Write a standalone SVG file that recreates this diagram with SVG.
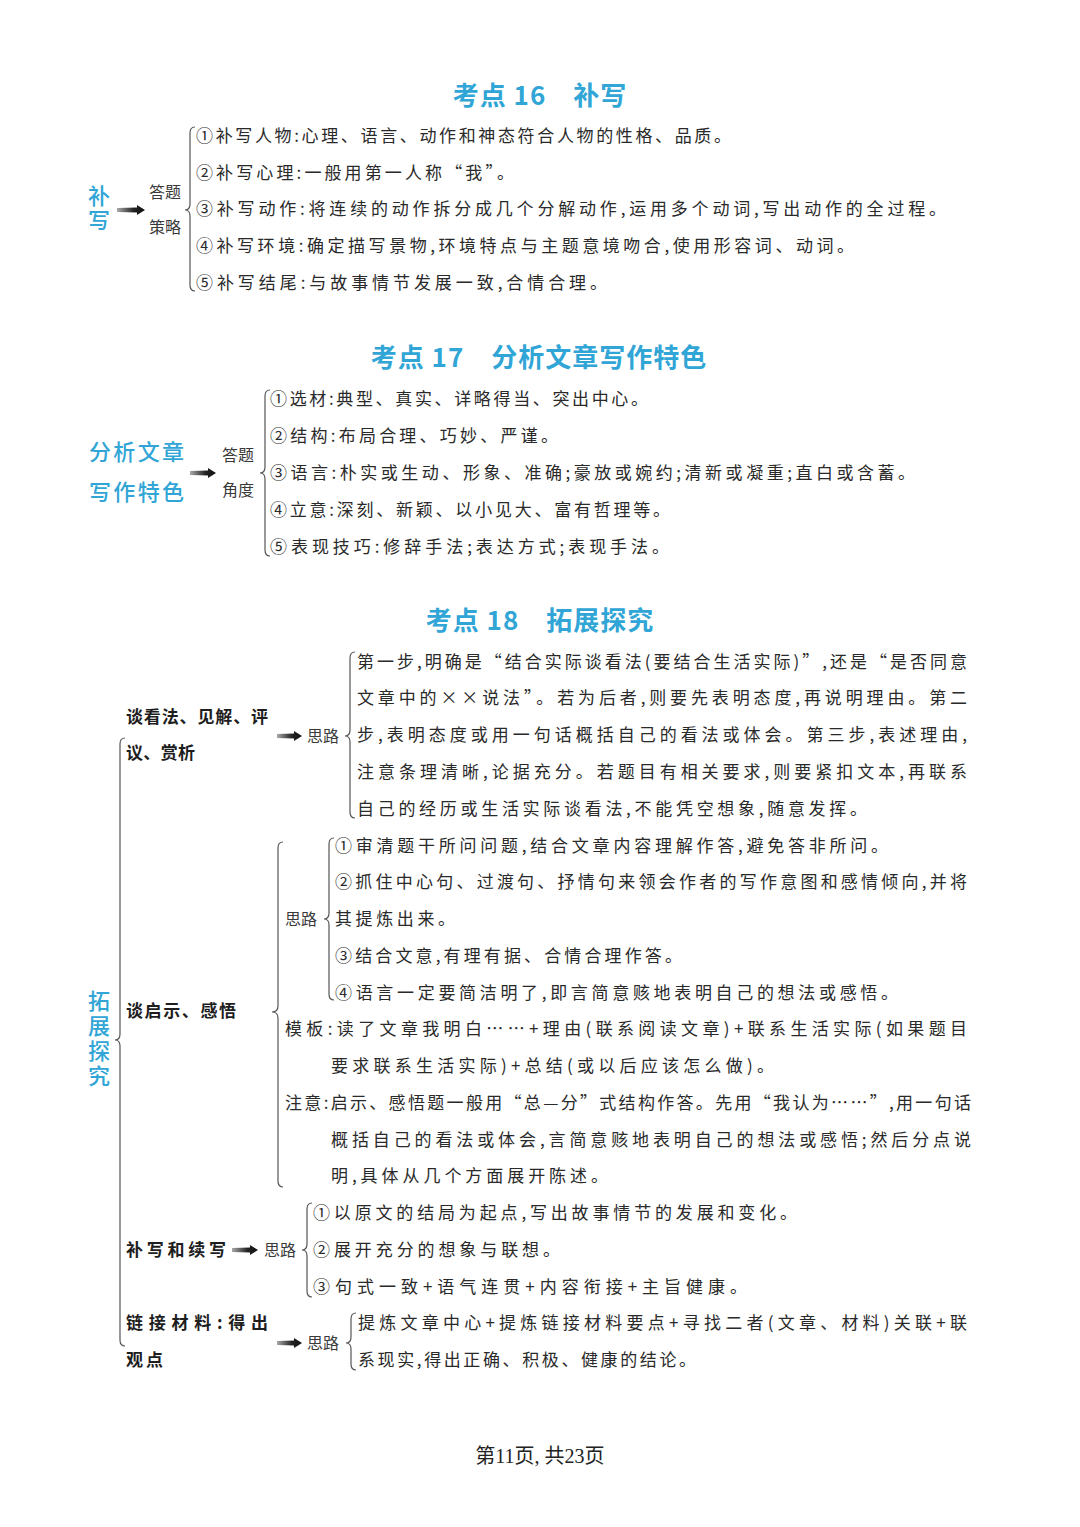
<svg xmlns="http://www.w3.org/2000/svg" width="1080" height="1527" viewBox="0 0 1080 1527">
<style>
.title{font-family:"Noto Sans CJK SC","Noto Sans",sans-serif;font-size:26px;font-weight:700;fill:#30a5d6;letter-spacing:1px}
.root{font-family:"Noto Sans CJK SC","Noto Sans",sans-serif;font-size:22px;font-weight:500;fill:#30a5d6}
.vert{writing-mode:vertical-rl;font-family:"Noto Sans CJK SC","Noto Sans",sans-serif;font-size:22px;font-weight:500;fill:#30a5d6}
.lab{font-family:"Noto Sans CJK SC","Noto Sans",sans-serif;font-size:17px;font-weight:700;fill:#1e1e1e}
.small{font-family:"Noto Sans CJK SC","Noto Sans",sans-serif;font-size:16px;font-weight:400;fill:#3a3a3a}
.body{font-family:"Noto Sans CJK SC","Noto Sans",sans-serif;font-size:17px;font-weight:400;fill:#2a2a2a}
.foot{font-family:"Liberation Serif","Noto Sans CJK SC",serif;font-size:20px;fill:#222}
.brace{fill:none;stroke:#555;stroke-width:1.2}
.arrow{fill:url(#ag)}
</style>
<defs>
<linearGradient id="ag" x1="0" y1="0" x2="1" y2="0">
<stop offset="0" stop-color="#aaa"/>
<stop offset="0.6" stop-color="#222"/>
<stop offset="1" stop-color="#111"/>
</linearGradient>
</defs>
<rect width="1080" height="1527" fill="#fff"/>

<g id="title16"><text class="title" x="540" y="105" text-anchor="middle">考点 16　补写</text></g>
<g id="title17"><text class="title" x="539" y="367" text-anchor="middle">考点 17　分析文章写作特色</text></g>
<g id="title18"><text class="title" x="540" y="630" text-anchor="middle">考点 18　拓展探究</text></g>

<g id="connectors">
<path class="arrow" d="M117,208 L137,207.5 L137,205 L145,210 L137,215 L137,212.5 L117,212 Z"/>
<path class="arrow" d="M190,471 L208,470.5 L208,468 L216,473 L208,478 L208,475.5 L190,475 Z"/>
<path class="arrow" d="M277,734 L294,733.5 L294,731 L302,736 L294,741 L294,738.5 L277,738 Z"/>
<path class="arrow" d="M232,1248 L250,1247.5 L250,1245 L258,1250 L250,1255 L250,1252.5 L232,1252 Z"/>
<path class="arrow" d="M277,1341 L294,1340.5 L294,1338 L302,1343 L294,1348 L294,1345.5 L277,1345 Z"/>
<path class="brace" d="M195,127 Q190,127 190,133 L190,204 Q190,210 185,210 Q190,210 190,216 L190,285 Q190,291 195,291"/>
<path class="brace" d="M270,390 Q265,390 265,396 L265,467 Q265,473 260,473 Q265,473 265,479 L265,550 Q265,556 270,556"/>
<path class="brace" d="M125,738 Q120,738 120,744 L120,1034 Q120,1040 115,1040 Q120,1040 120,1046 L120,1340 Q120,1346 125,1346"/>
<path class="brace" d="M355,652 Q350,652 350,658 L350,730 Q350,736 345,736 Q350,736 350,742 L350,812 Q350,818 355,818"/>
<path class="brace" d="M283,842 Q278,842 278,848 L278,1006 Q278,1012 272,1012 Q278,1012 278,1018 L278,1181 Q278,1187 283,1187"/>
<path class="brace" d="M334,838 Q329,838 329,844 L329,913 Q329,919 324,919 Q329,919 329,925 L329,994 Q329,1000 334,1000"/>
<path class="brace" d="M312,1203 Q307,1203 307,1209 L307,1244 Q307,1250 302,1250 Q307,1250 307,1256 L307,1291 Q307,1297 312,1297"/>
<path class="brace" d="M356,1313 Q351,1313 351,1319 L351,1337 Q351,1343 346,1343 Q351,1343 351,1349 L351,1364 Q351,1370 356,1370"/>
</g>

<g id="root16">
<text class="vert" x="99" y="185" style="letter-spacing:2px">补写</text>
</g>
<g id="label16">
<text class="small" x="149" y="198">答题</text>
<text class="small" x="149" y="233">策略</text>
</g>
<g id="items16">
<text class="body" x="196" y="142" textLength="535" lengthAdjust="spacing">①补写人物:心理、语言、动作和神态符合人物的性格、品质。</text>
<text class="body" x="196" y="179" textLength="318" lengthAdjust="spacing">②补写心理:一般用第一人称“我”。</text>
<text class="body" x="196" y="215" textLength="750" lengthAdjust="spacing">③补写动作:将连续的动作拆分成几个分解动作,运用多个动词,写出动作的全过程。</text>
<text class="body" x="196" y="252" textLength="658" lengthAdjust="spacing">④补写环境:确定描写景物,环境特点与主题意境吻合,使用形容词、动词。</text>
<text class="body" x="196" y="289" textLength="411" lengthAdjust="spacing">⑤补写结尾:与故事情节发展一致,合情合理。</text>
</g>

<g id="root17">
<text class="root" x="89" y="460" textLength="95" lengthAdjust="spacing">分析文章</text>
<text class="root" x="89" y="500" textLength="95" lengthAdjust="spacing">写作特色</text>
</g>
<g id="label17">
<text class="small" x="222" y="461">答题</text>
<text class="small" x="222" y="496">角度</text>
</g>
<g id="items17">
<text class="body" x="270" y="405" textLength="378" lengthAdjust="spacing">①选材:典型、真实、详略得当、突出中心。</text>
<text class="body" x="270" y="442" textLength="288" lengthAdjust="spacing">②结构:布局合理、巧妙、严谨。</text>
<text class="body" x="270" y="479" textLength="645" lengthAdjust="spacing">③语言:朴实或生动、形象、准确;豪放或婉约;清新或凝重;直白或含蓄。</text>
<text class="body" x="270" y="516" textLength="400" lengthAdjust="spacing">④立意:深刻、新颖、以小见大、富有哲理等。</text>
<text class="body" x="270" y="553" textLength="399" lengthAdjust="spacing">⑤表现技巧:修辞手法;表达方式;表现手法。</text>
</g>

<g id="root18">
<text class="vert" x="99" y="990" style="letter-spacing:3px">拓展探究</text>
</g>

<g id="branch-kanfa">
<text class="lab" x="126" y="723" textLength="142" lengthAdjust="spacing">谈看法、见解、评</text>
<text class="lab" x="126" y="759" textLength="69" lengthAdjust="spacing">议、赏析</text>
</g>
<g id="silu-kanfa"><text class="small" x="307" y="742">思路</text></g>
<g id="items-kanfa">
<text class="body" x="357" y="668" textLength="610" lengthAdjust="spacing">第一步,明确是“结合实际谈看法(要结合生活实际)”,还是“是否同意</text>
<text class="body" x="357" y="704" textLength="610" lengthAdjust="spacing">文章中的××说法”。若为后者,则要先表明态度,再说明理由。第二</text>
<text class="body" x="357" y="741" textLength="610" lengthAdjust="spacing">步,表明态度或用一句话概括自己的看法或体会。第三步,表述理由,</text>
<text class="body" x="357" y="778" textLength="610" lengthAdjust="spacing">注意条理清晰,论据充分。若题目有相关要求,则要紧扣文本,再联系</text>
<text class="body" x="357" y="815" textLength="510" lengthAdjust="spacing">自己的经历或生活实际谈看法,不能凭空想象,随意发挥。</text>
</g>

<g id="branch-qishi"><text class="lab" x="126" y="1017" textLength="110" lengthAdjust="spacing">谈启示、感悟</text></g>
<g id="silu-qishi"><text class="small" x="285" y="925">思路</text></g>
<g id="items-qishi">
<text class="body" x="335" y="852" textLength="553" lengthAdjust="spacing">①审清题干所问问题,结合文章内容理解作答,避免答非所问。</text>
<text class="body" x="335" y="888" textLength="632" lengthAdjust="spacing">②抓住中心句、过渡句、抒情句来领会作者的写作意图和感情倾向,并将</text>
<text class="body" x="335" y="925" textLength="120" lengthAdjust="spacing">其提炼出来。</text>
<text class="body" x="335" y="962" textLength="347" lengthAdjust="spacing">③结合文意,有理有据、合情合理作答。</text>
<text class="body" x="335" y="999" textLength="563" lengthAdjust="spacing">④语言一定要简洁明了,即言简意赅地表明自己的想法或感悟。</text>
</g>
<g id="muban">
<text class="body" x="285" y="1035" textLength="682" lengthAdjust="spacing">模板:读了文章我明白……+理由(联系阅读文章)+联系生活实际(如果题目</text>
<text class="body" x="331" y="1072" textLength="443" lengthAdjust="spacing">要求联系生活实际)+总结(或以后应该怎么做)。</text>
</g>
<g id="zhuyi">
<text class="body" x="285" y="1109" textLength="686" lengthAdjust="spacing">注意:启示、感悟题一般用“总—分”式结构作答。先用“我认为……”,用一句话</text>
<text class="body" x="331" y="1146" textLength="640" lengthAdjust="spacing">概括自己的看法或体会,言简意赅地表明自己的想法或感悟;然后分点说</text>
<text class="body" x="331" y="1182" textLength="277" lengthAdjust="spacing">明,具体从几个方面展开陈述。</text>
</g>

<g id="branch-xuxie"><text class="lab" x="126" y="1256" textLength="100" lengthAdjust="spacing">补写和续写</text></g>
<g id="silu-xuxie"><text class="small" x="264" y="1256">思路</text></g>
<g id="items-xuxie">
<text class="body" x="313" y="1219" textLength="484" lengthAdjust="spacing">①以原文的结局为起点,写出故事情节的发展和变化。</text>
<text class="body" x="313" y="1256" textLength="247" lengthAdjust="spacing">②展开充分的想象与联想。</text>
<text class="body" x="313" y="1293" textLength="434" lengthAdjust="spacing">③句式一致+语气连贯+内容衔接+主旨健康。</text>
</g>

<g id="branch-lianjie">
<text class="lab" x="126" y="1329" textLength="142" lengthAdjust="spacing">链接材料:得出</text>
<text class="lab" x="126" y="1366" textLength="37" lengthAdjust="spacing">观点</text>
</g>
<g id="silu-lianjie"><text class="small" x="307" y="1349">思路</text></g>
<g id="items-lianjie">
<text class="body" x="358" y="1329" textLength="609" lengthAdjust="spacing">提炼文章中心+提炼链接材料要点+寻找二者(文章、材料)关联+联</text>
<text class="body" x="358" y="1366" textLength="338" lengthAdjust="spacing">系现实,得出正确、积极、健康的结论。</text>
</g>

<g id="footer"><text class="foot" x="540" y="1463" text-anchor="middle">第11页, 共23页</text></g>
</svg>
